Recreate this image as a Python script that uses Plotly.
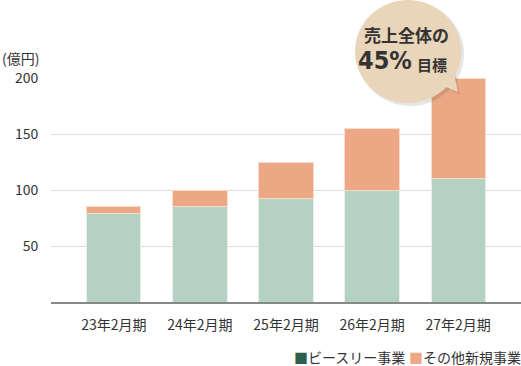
import plotly.graph_objects as go

categories = ["23年2月期", "24年2月期", "25年2月期", "26年2月期", "27年2月期"]
bsr_values = [79, 85, 92, 100, 110]
other_values = [6, 15, 33, 55, 90]
y_ticks = [50, 100, 150, 200]

W, H = 521, 366
L, R, T, B = 51, 0, 78, 64
pw, ph = W - L - R, H - T - B

def px(x):
    return (x - L) / pw

def py(y):
    return (H - B - y) / ph

font_family = "'Noto Sans CJK JP', Roboto, sans-serif"

fig = go.Figure()
fig.add_bar(x=categories, y=bsr_values, name="ビースリー事業", width=0.63,
            marker=dict(color="#b5d1c3", line=dict(color="#e6efe9", width=1)),
            showlegend=False, hoverinfo="skip")
fig.add_bar(x=categories, y=other_values, name="その他新規事業", width=0.63,
            marker=dict(color="#eca885", line=dict(color="#f8dccb", width=1)),
            showlegend=False, hoverinfo="skip")

shapes = []
# bubble shadow
shapes.append(dict(type="circle", xref="paper", yref="paper",
                   x0=px(357), x1=px(464), y0=py(106), y1=py(2),
                   fillcolor="rgba(0,0,0,0.10)", line=dict(width=0), layer="above"))
# tail shadow
shapes.append(dict(type="path", xref="paper", yref="paper",
                   path=f"M {px(441)},{py(85)} L {px(460)},{py(95)} L {px(455)},{py(72)} Z",
                   fillcolor="rgba(0,0,0,0.10)", line=dict(width=0), layer="above"))
# bubble
shapes.append(dict(type="circle", xref="paper", yref="paper",
                   x0=px(355), x1=px(461), y0=py(103), y1=py(0),
                   fillcolor="#e9d5b9", line=dict(width=0), layer="above"))
shapes.append(dict(type="path", xref="paper", yref="paper",
                   path=f"M {px(438)},{py(84)} L {px(458)},{py(92)} L {px(453)},{py(68)} Z",
                   fillcolor="#e9d5b9", line=dict(width=0), layer="above"))

annotations = [
    dict(text="(億円)", xref="paper", yref="paper", x=px(0), y=py(58),
         xanchor="left", yanchor="middle", showarrow=False,
         font=dict(size=14, color="#333", family=font_family)),
    dict(text="<b>売上全体の</b>", xref="paper", yref="paper", x=px(406), y=py(35),
         xanchor="center", yanchor="middle", showarrow=False,
         font=dict(size=17, color="#333", family=font_family)),
    dict(text="<b>45%</b>", xref="paper", yref="paper",
         x=px(414), y=py(61), xanchor="right", yanchor="middle", showarrow=False,
         font=dict(size=25, color="#333",
                   family="'DejaVu Sans Condensed', Roboto, sans-serif")),
    dict(text="<b>目標</b>", xref="paper", yref="paper",
         x=px(415), y=py(64), xanchor="left", yanchor="middle", showarrow=False,
         font=dict(size=15, color="#333", family=font_family)),
    dict(text="<span style='color:#2e5e4e'>■</span>ビースリー事業", xref="paper", yref="paper",
         x=px(292), y=py(357), xanchor="left", yanchor="middle", showarrow=False,
         font=dict(size=14, color="#333", family=font_family)),
    dict(text="<span style='color:#eca885'>■</span>その他新規事業", xref="paper", yref="paper",
         x=px(407), y=py(357), xanchor="left", yanchor="middle", showarrow=False,
         font=dict(size=14, color="#333", family=font_family)),
]

fig.update_layout(
    width=W, height=H, barmode="stack",
    margin=dict(l=L, r=R, t=T, b=B),
    paper_bgcolor="white", plot_bgcolor="white",
    shapes=shapes, annotations=annotations,
    font=dict(family=font_family, color="#333"),
    xaxis=dict(type="category", range=[-0.73, 4.73], showgrid=False,
               showline=True, linecolor="#888", linewidth=2,
               ticks="outside", ticklen=9, tickcolor="rgba(0,0,0,0)",
               tickfont=dict(size=14, color="#333")),
    yaxis=dict(range=[0, 200], tickvals=y_ticks, showgrid=True, gridcolor="#dddddd",
               gridwidth=1, zeroline=False, showline=False,
               ticks="outside", ticklen=9, tickcolor="rgba(0,0,0,0)",
               tickfont=dict(size=14, color="#333")),
)

fig.write_html("out.html", config={"displayModeBar": False},
               post_script="document.body.style.margin='0';document.body.style.overflow='hidden';")
